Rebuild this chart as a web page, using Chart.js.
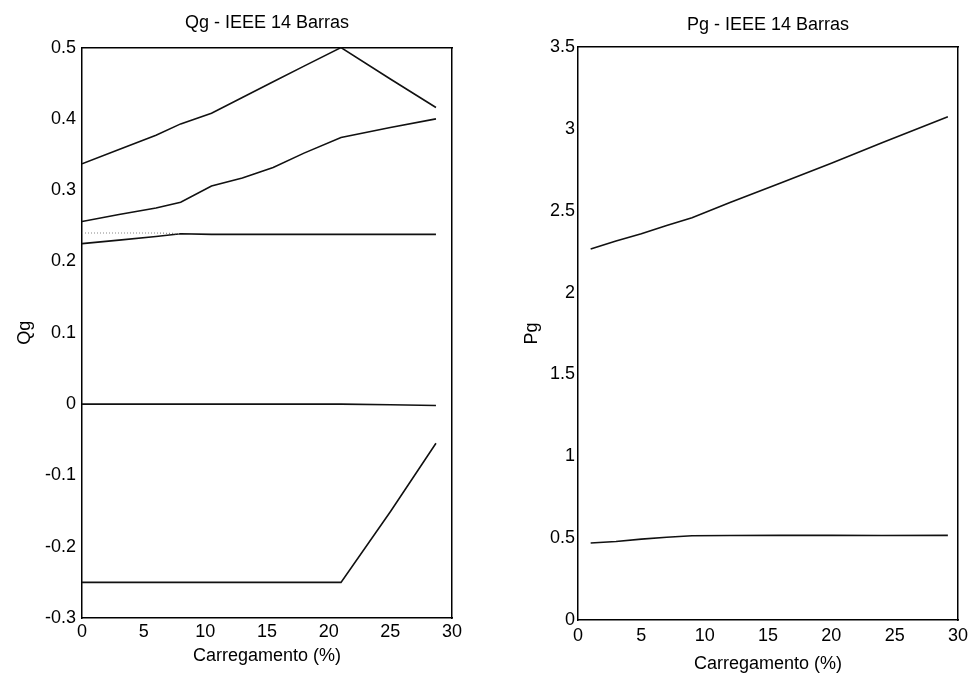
<!DOCTYPE html>
<html>
<head>
<meta charset="utf-8">
<script src="https://cdn.jsdelivr.net/npm/chart.js@4.4.0/dist/chart.umd.min.js"></script>
<style>
  html, body { margin:0; padding:0; background:#fff; }
  #wrap { position:relative; width:969px; height:676px; overflow:hidden; }
  canvas { position:absolute; top:0; }
  #qg-chart { left:0; }
  #pg-chart { left:490px; }
</style>
</head>
<body>
<div id="wrap">
  <canvas id="qg-chart" width="480" height="676"></canvas>
  <canvas id="pg-chart" width="479" height="676"></canvas>
</div>
<script>
// ═══════════════════════════════════════════════
//  Qg / Pg  —  IEEE 14 Barras vs carregamento
// ═══════════════════════════════════════════════

// ── DATA: Qg panel ────────────────────────────
const qgLoad  = [0, 3, 6, 8, 10.5, 13, 15.5, 18, 21, 25, 28.7];
const qgGen1  = [0.337, 0.357, 0.377, 0.393, 0.408, 0.430, 0.452, 0.474, 0.500, 0.456, 0.416];
const qgGen2  = [0.256, 0.266, 0.275, 0.283, 0.306, 0.317, 0.332, 0.352, 0.374, 0.388, 0.400];
const qgGen3  = [0.225, 0.230, 0.235, 0.239, 0.238, 0.238, 0.238, 0.238, 0.238, 0.238, 0.238];
const qgGen3b = [0.240, 0.240, 0.240, 0.239, null, null, null, null, null, null, null];
const qgGen4  = [0, 0, 0, 0, 0, 0, 0, 0, 0, -0.001, -0.002];
const qgGen5  = [-0.250, -0.250, -0.250, -0.250, -0.250, -0.250, -0.250, -0.250, -0.250, -0.151, -0.055];

// ── DATA: Pg panel ────────────────────────────
const pgLoad  = [1, 3, 5, 7, 9, 12, 16, 20, 24, 29.2];
const pgGen1  = [2.267, 2.315, 2.360, 2.410, 2.457, 2.550, 2.670, 2.790, 2.915, 3.074];
const pgGen2  = [0.470, 0.480, 0.494, 0.506, 0.515, 0.516, 0.517, 0.517, 0.516, 0.517];

const xTicks  = [0, 5, 10, 15, 20, 25, 30];
const qgTicks = [-0.3, -0.2, -0.1, 0, 0.1, 0.2, 0.3, 0.4, 0.5];
const pgTicks = [0, 0.5, 1, 1.5, 2, 2.5, 3, 3.5];

Chart.defaults.font.family = '"Liberation Sans", Arial, sans-serif';
Chart.defaults.font.size = 18;
Chart.defaults.color = '#000';

function pts(xs, ys) { return xs.map((x, i) => ({ x: x, y: ys[i] })); }

function line(xs, ys, extra) {
  return Object.assign({
    data: pts(xs, ys),
    borderColor: '#111',
    borderWidth: 1.6,
    pointRadius: 0,
    tension: 0,
    fill: false,
    spanGaps: false
  }, extra || {});
}

// ── PANEL BUILDER ─────────────────────────────
function makePanel(id, p) {
  const border = { display: true, color: '#000', width: 1.5 };
  const noGrid = { display: false, drawTicks: false };

  return new Chart(document.getElementById(id), {
    type: 'line',
    data: { datasets: p.datasets },
    options: {
      responsive: false,
      animation: false,
      layout: { padding: { left: 0, top: 0, right: p.padRight, bottom: 0 } },
      plugins: {
        legend: { display: false },
        tooltip: { enabled: false },
        title: {
          display: true,
          text: p.title,
          fullSize: false,
          color: '#000',
          font: { size: 18, weight: 'normal' },
          padding: p.titlePad
        }
      },
      scales: {
        x: {
          type: 'linear', position: 'bottom', min: 0, max: 30,
          afterBuildTicks: s => { s.ticks = xTicks.map(v => ({ value: v })); },
          afterFit: s => { s.height = p.xHeight; s.paddingLeft = 0; s.paddingRight = 0; },
          grid: noGrid, border: border,
          ticks: { padding: p.xTickPad, maxRotation: 0, callback: v => String(v) },
          title: { display: true, text: 'Carregamento (%)', padding: { top: 4, bottom: p.xTitlePad } }
        },
        y: {
          type: 'linear', position: 'left', min: p.yMin, max: p.yMax,
          afterBuildTicks: s => { s.ticks = p.yTicks.map(v => ({ value: v })); },
          afterFit: s => { s.width = p.yWidth; s.paddingTop = 0; s.paddingBottom = 0; },
          grid: noGrid, border: border,
          ticks: { padding: p.yTickPad, callback: v => String(v) },
          title: { display: true, text: p.yLabel, padding: { top: p.yTitlePad, bottom: 4 } }
        },
        // top/right frame lines of the box
        xTop: {
          type: 'linear', position: 'top', display: true, min: 0, max: 30,
          afterFit: s => { s.height = 0; },
          grid: noGrid, border: border, ticks: { display: false }
        },
        yRight: {
          type: 'linear', position: 'right', display: true, min: p.yMin, max: p.yMax,
          afterFit: s => { s.width = 0; },
          grid: noGrid, border: border, ticks: { display: false }
        }
      }
    }
  });
}

// ── Qg PANEL ──────────────────────────────────
makePanel('qg-chart', {
  title: 'Qg - IEEE 14 Barras',
  titlePad: { top: 12, bottom: 14 },
  yLabel: 'Qg',
  yMin: -0.3, yMax: 0.5, yTicks: qgTicks,
  yWidth: 82, yTickPad: 6, yTitlePad: 14,
  xHeight: 58, xTickPad: 3, xTitlePad: 9,
  padRight: 28,
  datasets: [
    line(qgLoad, qgGen3b, { borderColor: '#888', borderWidth: 1.2, borderDash: [1, 2] }),
    line(qgLoad, qgGen1),
    line(qgLoad, qgGen2),
    line(qgLoad, qgGen3),
    line(qgLoad, qgGen4),
    line(qgLoad, qgGen5)
  ]
});

// ── Pg PANEL ──────────────────────────────────
makePanel('pg-chart', {
  title: 'Pg - IEEE 14 Barras',
  titlePad: { top: 14.5, bottom: 11 },
  yLabel: 'Pg',
  yMin: 0, yMax: 3.5, yTicks: pgTicks,
  yWidth: 88, yTickPad: 3, yTitlePad: 31,
  xHeight: 56, xTickPad: 5, xTitlePad: 1,
  padRight: 11,
  datasets: [
    line(pgLoad, pgGen1),
    line(pgLoad, pgGen2)
  ]
});
</script>
</body>
</html>
